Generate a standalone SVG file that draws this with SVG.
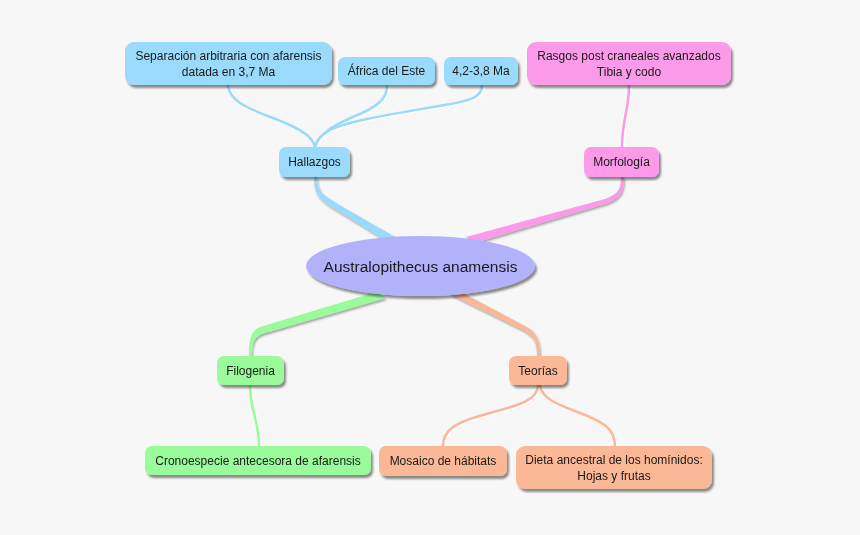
<svg xmlns="http://www.w3.org/2000/svg" width="860" height="535" viewBox="0 0 860 535">
<defs>
<filter id="sh" x="-20%" y="-30%" width="140%" height="170%">
<feGaussianBlur in="SourceAlpha" stdDeviation="1.2"/>
<feOffset dx="2" dy="2.5" result="o"/>
<feComponentTransfer><feFuncA type="linear" slope="0.45"/></feComponentTransfer>
<feMerge><feMergeNode/><feMergeNode in="SourceGraphic"/></feMerge>
</filter>
<filter id="lsh" x="-20%" y="-20%" width="140%" height="140%">
<feGaussianBlur in="SourceAlpha" stdDeviation="0.8"/>
<feOffset dx="1" dy="1.5" result="o"/>
<feComponentTransfer><feFuncA type="linear" slope="0.35"/></feComponentTransfer>
<feMerge><feMergeNode/><feMergeNode in="SourceGraphic"/></feMerge>
</filter>
</defs>
<style>
text{font-family:"Liberation Sans",Arial,sans-serif;font-size:12px;fill:#1a1a1a;text-anchor:middle}
.b{fill:#9adafb}.p{fill:#fb9ae9}.g{fill:#9afb9a}.o{fill:#fbb897}
.sw{fill:none;stroke:#ffffff;stroke-width:2.8;stroke-linecap:round}
.sb{fill:none;stroke:#9adafb;stroke-width:2.5;stroke-linecap:round}
.sp{fill:none;stroke:#fb9ae9;stroke-width:2.5;stroke-linecap:round}
.sg{fill:none;stroke:#9afb9a;stroke-width:2.5;stroke-linecap:round}
.so{fill:none;stroke:#fbb897;stroke-width:2.5;stroke-linecap:round}
</style>
<rect width="860" height="535" fill="#f7f7f7"/>
<g id="connectors">
<g filter="url(#lsh)">
<path class="b" d="M314,177 C314,192 318,198 330,206 L387,241 L397,238 L336,203 C322,194 317,190 317,177 Z"/>
<path class="p" d="M621,177 C621,190 618,194 605,199 L466,237 L474,243 L608,203 C622,197 624,190 624,177 Z"/>
<path class="g" d="M376,292 L260,327 C252,331 249,337 249,356 L252,356 C252,341 255,336 265,333 L386,298 Z"/>
<path class="o" d="M450,294 L523,330 C534,336 537,342 537,356 L540,356 C540,340 537,333 527,327 L461,292 Z"/>
</g>
<g transform="translate(1.5,1.2)">
<path class="sw" d="M228,86 C230,100 245,107 265,115 C295,126 313,135 315,147"/>
<path class="sw" d="M387,86 C387,100 375,108 355,116 C330,127 318,135 315,147"/>
<path class="sw" d="M482,86 C482,97 470,101 445,105 C400,113 350,120 330,130 C320,136 316,141 315,147"/>
<path class="sw" d="M629,86 C629,110 622,120 622,147"/>
<path class="sw" d="M250,385 C250,410 259,420 259,446"/>
<path class="sw" d="M538,385 C538,400 520,405 490,413 C455,422 443,430 443,446"/>
<path class="sw" d="M540,385 C542,400 560,405 585,415 C605,423 615,430 615,446"/>
</g>
<path class="sb" d="M228,86 C230,100 245,107 265,115 C295,126 313,135 315,147"/>
<path class="sb" d="M387,86 C387,100 375,108 355,116 C330,127 318,135 315,147"/>
<path class="sb" d="M482,86 C482,97 470,101 445,105 C400,113 350,120 330,130 C320,136 316,141 315,147"/>
<path class="sp" d="M629,86 C629,110 622,120 622,147"/>
<path class="sg" d="M250,385 C250,410 259,420 259,446"/>
<path class="so" d="M538,385 C538,400 520,405 490,413 C455,422 443,430 443,446"/>
<path class="so" d="M540,385 C542,400 560,405 585,415 C605,423 615,430 615,446"/>
</g>
<g id="center" filter="url(#sh)">
<ellipse cx="420.5" cy="266" rx="114.5" ry="30" fill="#b2b2fb"/>
<text x="420.5" y="271.5" style="font-size:15.5px">Australopithecus anamensis</text>
</g>
<g id="separacion" filter="url(#sh)">
<rect class="b" x="125" y="42" width="207" height="43" rx="9"/>
<text x="228.5" y="60">Separación arbitraria con afarensis</text>
<text x="228.5" y="76">datada en 3,7 Ma</text>
</g>
<g id="africa" filter="url(#sh)">
<rect class="b" x="338" y="57" width="97" height="28" rx="7"/>
<text x="386.5" y="75">África del Este</text>
</g>
<g id="edad" filter="url(#sh)">
<rect class="b" x="444" y="57" width="74" height="28" rx="7"/>
<text x="481" y="75">4,2-3,8 Ma</text>
</g>
<g id="rasgos" filter="url(#sh)">
<rect class="p" x="527" y="42" width="204" height="43" rx="9"/>
<text x="629" y="60">Rasgos post craneales avanzados</text>
<text x="629" y="76">Tibia y codo</text>
</g>
<g id="hallazgos" filter="url(#sh)">
<rect class="b" x="279" y="147" width="71" height="30" rx="7"/>
<text x="314.5" y="166">Hallazgos</text>
</g>
<g id="morfologia" filter="url(#sh)">
<rect class="p" x="584" y="147" width="75" height="30" rx="7"/>
<text x="621.5" y="166">Morfología</text>
</g>
<g id="filogenia" filter="url(#sh)">
<rect class="g" x="217" y="356" width="67" height="29" rx="7"/>
<text x="250.5" y="375">Filogenia</text>
</g>
<g id="teorias" filter="url(#sh)">
<rect class="o" x="509" y="356" width="58" height="29" rx="7"/>
<text x="538" y="375">Teorías</text>
</g>
<g id="cronoespecie" filter="url(#sh)">
<rect class="g" x="145" y="446" width="226" height="29" rx="7"/>
<text x="258" y="465">Cronoespecie antecesora de afarensis</text>
</g>
<g id="mosaico" filter="url(#sh)">
<rect class="o" x="379" y="446" width="128" height="30" rx="7"/>
<text x="443" y="465">Mosaico de hábitats</text>
</g>
<g id="dieta" filter="url(#sh)">
<rect class="o" x="516" y="446" width="196" height="43" rx="9"/>
<text x="614" y="464">Dieta ancestral de los homínidos:</text>
<text x="614" y="480">Hojas y frutas</text>
</g>
</svg>
